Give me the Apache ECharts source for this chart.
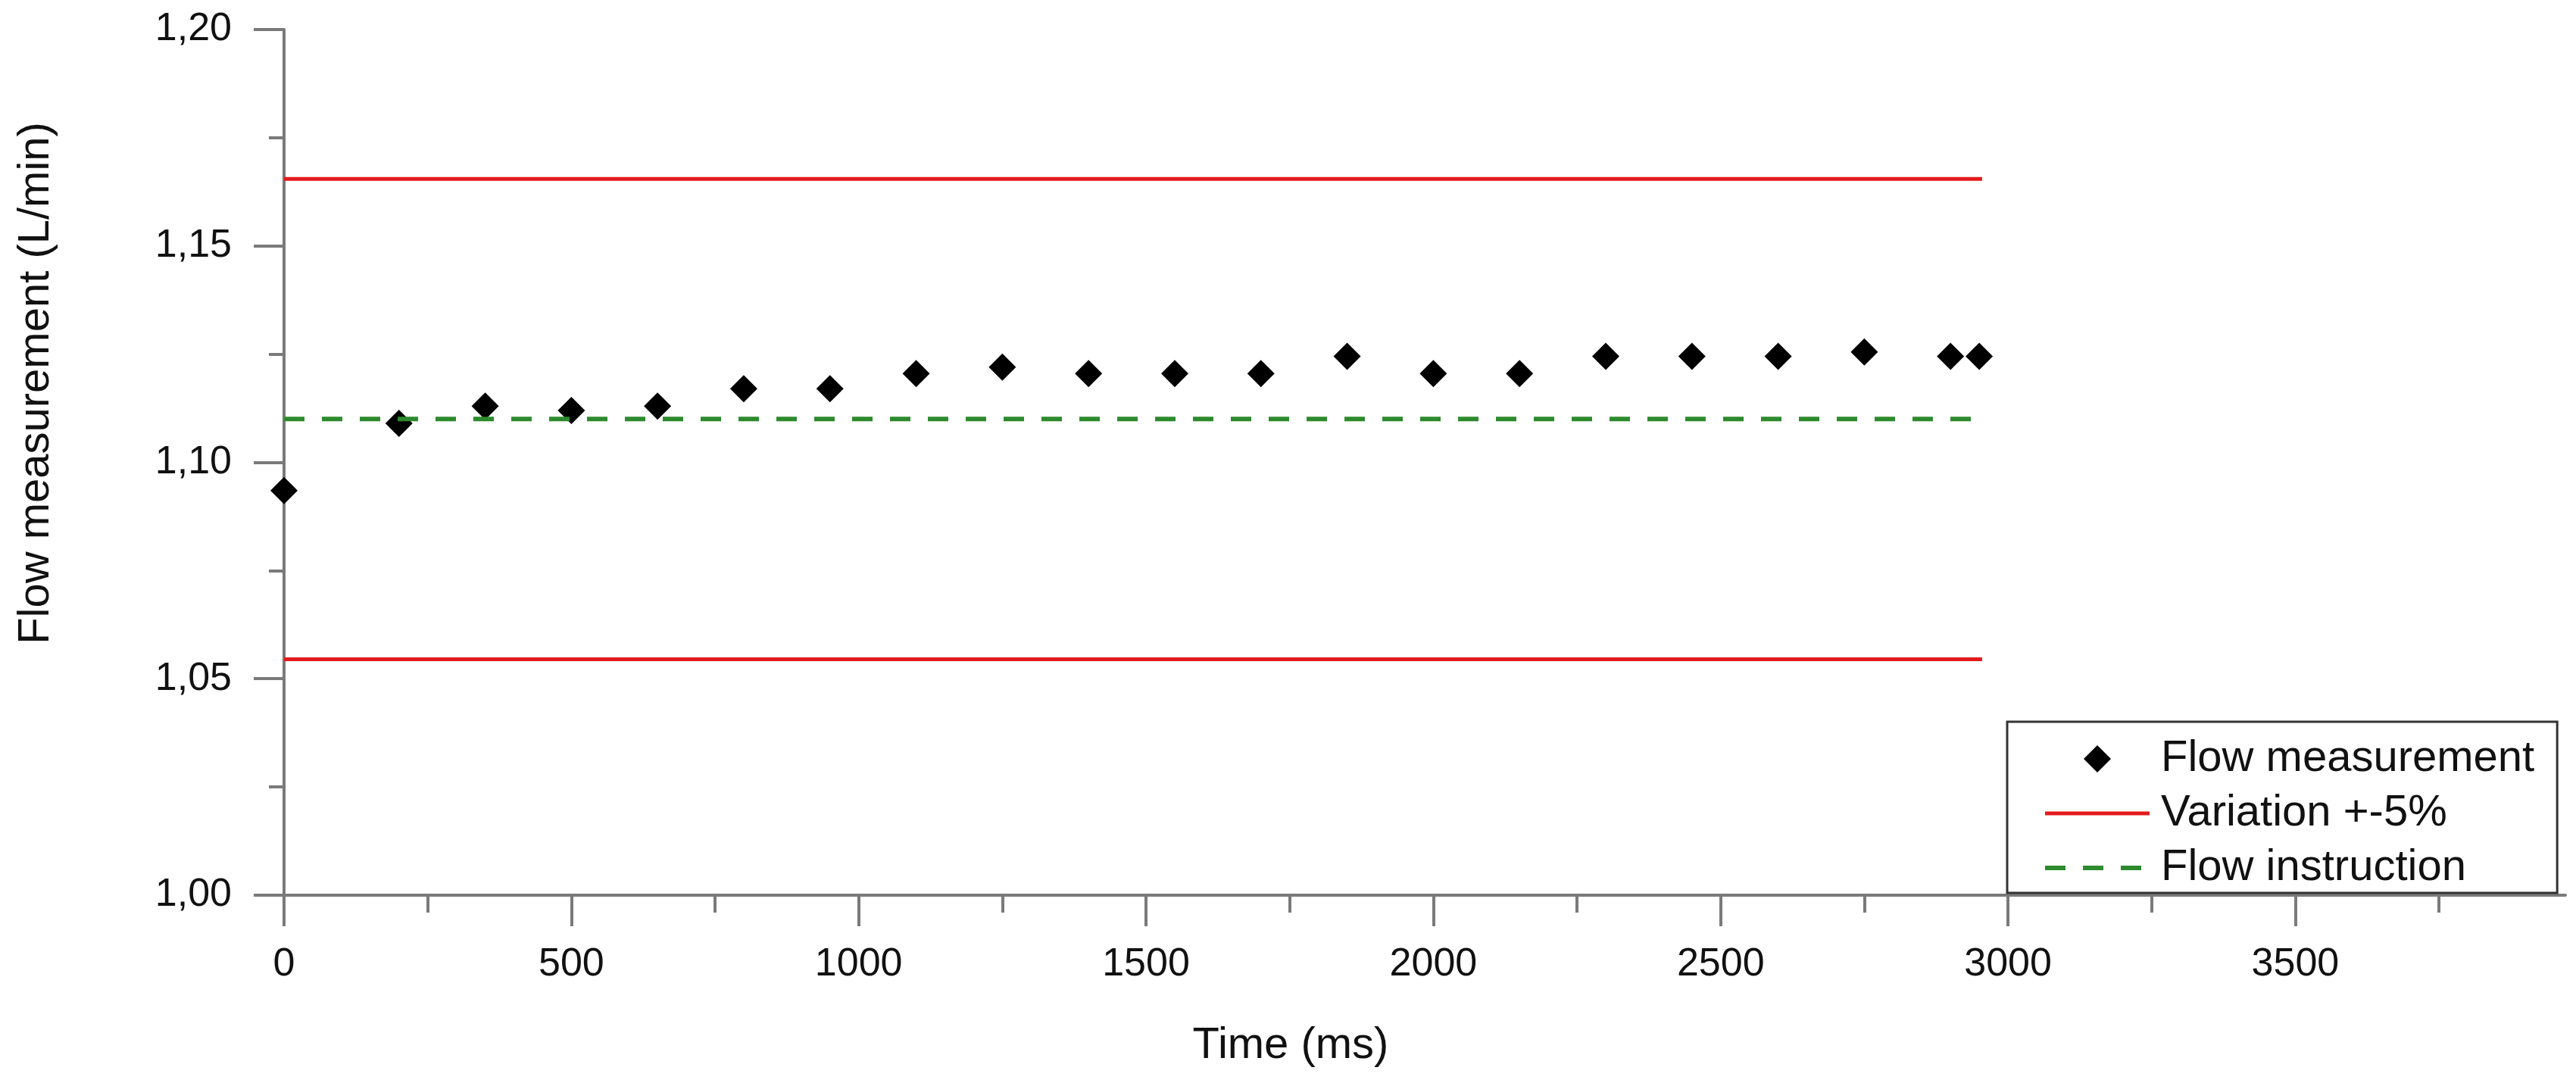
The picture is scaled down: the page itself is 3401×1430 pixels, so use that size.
<!DOCTYPE html>
<html>
<head>
<meta charset="utf-8">
<script src="https://cdn.jsdelivr.net/npm/echarts@6/dist/echarts.min.js"></script>
<style>
html,body{margin:0;padding:0;background:#fff;}
#chart{width:3401px;height:1430px;}
</style>
</head>
<body>
<div id="chart"></div>
<script>
// ---- data ----
const xMajorTicks = [0, 500, 1000, 1500, 2000, 2500, 3000, 3500];
const xMinorTicks = [250, 750, 1250, 1750, 2250, 2750, 3250, 3750];
const timeMs = [0, 200, 350, 500, 650, 800, 950, 1100, 1250, 1400, 1550, 1700, 1850, 2000, 2150, 2300, 2450, 2600, 2750, 2900, 2950];
const flowMeasured = [1.0935, 1.109, 1.113, 1.112, 1.113, 1.117, 1.117, 1.1205, 1.122, 1.1205, 1.1205, 1.1205, 1.1245, 1.1205, 1.1205, 1.1245, 1.1245, 1.1245, 1.1255, 1.1245, 1.1245];
const limitX = [0, 2955];
const upperLimit = [1.1655, 1.1655];
const lowerLimit = [1.0545, 1.0545];
const flowInstruction = [1.11, 1.11];
const seriesNames = ['Flow measurement', 'Variation +-5%', 'Flow instruction'];
const xTitle = 'Time (ms)';
const yTitle = 'Flow measurement (L/min)';

const FONT = '"Liberation Sans", Arial, Helvetica, sans-serif';
const AXIS_COLOR = '#7a7a7a';
const RED = '#e31a1c';
const GREEN = '#2d8a2d';
const pair = (xs, ys) => xs.map((x, i) => [x, ys[i]]);
// legend icon: a 36x36 diamond centred in a 138x36 box (invisible corner points fix the box)
const LEGEND_DIAMOND = 'path://M0,0L0,0M138,36L138,36M69,0L87,18L69,36L51,18Z';

const chart = echarts.init(document.getElementById('chart'), null, {renderer: 'canvas'});
chart.setOption({
  animation: false,
  backgroundColor: '#ffffff',
  grid: {left: 375, top: 39, width: 3012, height: 1143, containLabel: false},
  xAxis: [{
    type: 'value', min: 0, max: 3970, position: 'bottom',
    axisLine: {show: true, onZero: false, lineStyle: {color: AXIS_COLOR, width: 4}},
    axisTick: {show: true, length: 41, customValues: xMajorTicks, lineStyle: {color: AXIS_COLOR, width: 4}},
    axisLabel: {show: true, customValues: xMajorTicks, margin: 92, verticalAlign: 'middle',
      fontSize: 52, fontFamily: FONT, color: '#111', formatter: v => String(v)},
    splitLine: {show: false}
  }, {
    type: 'value', min: 0, max: 3970, position: 'bottom',
    axisLine: {show: false},
    axisTick: {show: true, length: 23, customValues: xMinorTicks, lineStyle: {color: AXIS_COLOR, width: 4}},
    axisLabel: {show: false},
    splitLine: {show: false}
  }],
  yAxis: {
    type: 'value', min: 1.0, max: 1.2, interval: 0.05,
    axisLine: {show: true, onZero: false, lineStyle: {color: AXIS_COLOR, width: 4}},
    axisTick: {show: true, length: 40, lineStyle: {color: AXIS_COLOR, width: 4}},
    minorTick: {show: true, splitNumber: 2, length: 20, lineStyle: {color: AXIS_COLOR, width: 4}},
    axisLabel: {margin: 69, fontSize: 52, fontFamily: FONT, color: '#111',
      formatter: v => v.toFixed(2).replace('.', ',')},
    splitLine: {show: false}, minorSplitLine: {show: false}
  },
  legend: {
    orient: 'vertical', left: 2650, top: 953,
    data: [
      {name: seriesNames[0], icon: LEGEND_DIAMOND, itemStyle: {color: '#000', opacity: 1}},
      {name: seriesNames[1], itemStyle: {opacity: 0}, lineStyle: {color: RED, width: 5}},
      {name: seriesNames[2], itemStyle: {opacity: 0}, lineStyle: {color: GREEN, width: 6, type: [27, 23]}}
    ],
    selectedMode: false,
    itemWidth: 138, itemHeight: 36, itemGap: 14,
    padding: [20, 30, 4, 47],
    borderColor: '#333', borderWidth: 3, backgroundColor: '#ffffff',
    textStyle: {fontSize: 58, lineHeight: 58, fontFamily: FONT, color: '#111', padding: [0, 0, 0, 10]}
  },
  graphic: [
    {type: 'text', x: 1704, y: 1381, silent: true,
      style: {text: xTitle, font: '58px ' + FONT, fill: '#111', textAlign: 'center', textVerticalAlign: 'middle'}},
    {type: 'text', x: 48, y: 506, rotation: Math.PI / 2, silent: true,
      style: {text: yTitle, font: '58px ' + FONT, fill: '#111', textAlign: 'center', textVerticalAlign: 'middle'}}
  ],
  series: [{
    name: seriesNames[0], type: 'scatter', xAxisIndex: 0,
    data: pair(timeMs, flowMeasured),
    symbol: 'diamond', symbolSize: 36, symbolKeepAspect: true,
    itemStyle: {color: '#000', opacity: 1}
  }, {
    name: seriesNames[1], type: 'line', xAxisIndex: 0,
    data: pair(limitX, upperLimit), symbol: 'none',
    itemStyle: {color: RED},
    lineStyle: {color: RED, width: 5}
  }, {
    name: seriesNames[1], type: 'line', xAxisIndex: 0,
    data: pair(limitX, lowerLimit), symbol: 'none',
    itemStyle: {color: RED},
    lineStyle: {color: RED, width: 5}
  }, {
    name: seriesNames[2], type: 'line', xAxisIndex: 0,
    data: pair(limitX, flowInstruction), symbol: 'none',
    itemStyle: {color: GREEN},
    lineStyle: {color: GREEN, width: 6, type: [27, 23]}
  }]
});
</script>
</body>
</html>
